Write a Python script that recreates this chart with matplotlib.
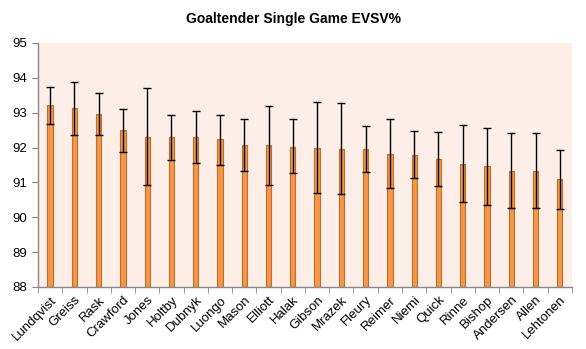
import matplotlib.pyplot as plt
import numpy as np

# Data
goalies = ['Lundqvist', 'Greiss', 'Rask', 'Crawford', 'Jones', 'Holtby', 'Dubnyk',
           'Luongo', 'Mason', 'Elliott', 'Halak', 'Gibson', 'Mrazek', 'Fleury',
           'Reimer', 'Niemi', 'Quick', 'Rinne', 'Bishop', 'Andersen', 'Allen', 'Lehtonen']
evsv = [93.21, 93.13, 92.95, 92.50, 92.29, 92.29, 92.29, 92.24, 92.06, 92.06, 92.03,
        91.98, 91.95, 91.95, 91.81, 91.78, 91.66, 91.52, 91.46, 91.32, 91.32, 91.09]
err_high = [93.75, 93.87, 93.56, 93.12, 93.70, 92.92, 93.04, 92.94, 92.83, 93.20, 92.83,
            93.30, 93.27, 92.61, 92.81, 92.47, 92.44, 92.64, 92.55, 92.41, 92.41, 91.92]
err_low = [92.67, 92.35, 92.35, 91.86, 90.93, 91.63, 91.55, 91.51, 91.32, 90.93, 91.26,
           90.69, 90.66, 91.29, 90.83, 91.12, 90.89, 90.43, 90.34, 90.26, 90.26, 90.23]
yticks = [88, 89, 90, 91, 92, 93, 94, 95]

plt.rcParams['font.family'] = ['Liberation Sans', 'DejaVu Sans']

fig = plt.figure(figsize=(5.86, 3.49), dpi=100)
ax = fig.add_axes([0.0648, 0.1777, 0.9112, 0.6991])
ax.set_facecolor('#FDEEE7')

x = np.arange(len(goalies))
vals = np.array(evsv)
yerr = [vals - np.array(err_low), np.array(err_high) - vals]

ax.bar(x, vals - 88, bottom=88, width=0.22, color='#F79646',
       edgecolor='#B9702F', linewidth=0.8, zorder=2)
ax.errorbar(x, vals, yerr=yerr, fmt='none', ecolor='black', elinewidth=1.0,
            capsize=3, capthick=1.0, zorder=3)

ax.set_xlim(-0.5, len(goalies) - 0.5)
ax.set_ylim(88, 95)
ax.set_yticks(yticks)
ax.tick_params(axis='y', labelsize=9.5, length=4, color='#888888', direction='out')

# category labels centred on bars, tick marks at the category boundaries
ax.set_xticks(x)
ax.set_xticklabels(goalies, rotation=45, ha='right', rotation_mode='anchor', fontsize=9.5)
ax.tick_params(axis='x', length=0, pad=5)
ax.set_xticks(np.arange(-0.5, len(goalies) + 0.5, 1), minor=True)
ax.tick_params(axis='x', which='minor', length=4, color='#888888', direction='out')

for s in ['top', 'right']:
    ax.spines[s].set_visible(False)
for s in ['left', 'bottom']:
    ax.spines[s].set_color('#888888')
    ax.spines[s].set_linewidth(1)

fig.text(0.5, 0.945, 'Goaltender Single Game EVSV%', ha='center', va='center',
         fontsize=10, fontweight='bold')

fig.savefig('out.png', dpi=100)
